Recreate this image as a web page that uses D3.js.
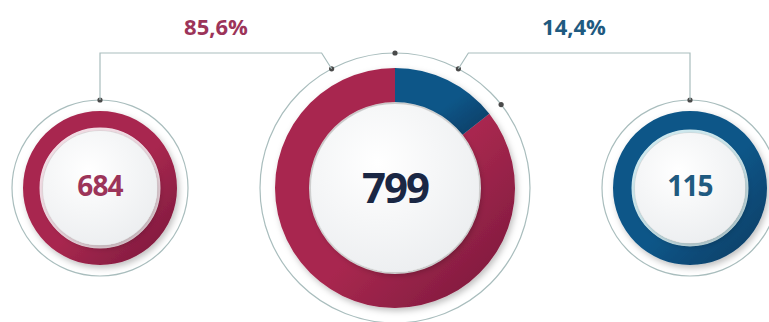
<!DOCTYPE html>
<html>
<head>
<meta charset="utf-8">
<script src="https://cdn.jsdelivr.net/npm/d3@7"></script>
<style>
  html, body { margin: 0; padding: 0; background: #fff; }
  svg { display: block; font-family: "Open Sans", "DejaVu Sans", sans-serif; }
</style>
</head>
<body>
<svg id="chart" width="769" height="322"></svg>
<script>
// values
const groups = ["a", "b"];
const values = [684, 115];
const groupColors = ["#a8284f", "#0f5688"];
const groupDark = ["#76173a", "#0b3a60"];
const textColors = ["#9c3459", "#1f5a80"];
const totalColor = "#1a2744";

const total = d3.sum(values);
const pct = v => d3.format(".1f")(v / total * 100).replace(".", ",") + "%";

const svg = d3.select("#chart");
const defs = svg.append("defs");

groups.forEach((g, i) => {
    const lg = defs.append("linearGradient")
        .attr("id", "grad-" + g)
        .attr("x1", "0").attr("y1", "0").attr("x2", "1").attr("y2", "1");
    lg.append("stop").attr("offset", "0%").attr("stop-color", groupColors[i]);
    lg.append("stop").attr("offset", "55%").attr("stop-color", groupColors[i]);
    lg.append("stop").attr("offset", "100%").attr("stop-color", groupDark[i]);
});

const shadow = defs.append("filter").attr("id", "shadow")
    .attr("x", "-30%").attr("y", "-30%").attr("width", "160%").attr("height", "160%");
shadow.append("feDropShadow")
    .attr("dx", 2).attr("dy", 3).attr("stdDeviation", 3)
    .attr("flood-color", "#000").attr("flood-opacity", 0.25);

const innerGrad = defs.append("radialGradient").attr("id", "inner")
    .attr("cx", "40%").attr("cy", "35%").attr("r", "70%");
innerGrad.append("stop").attr("offset", "0%").attr("stop-color", "#ffffff");
innerGrad.append("stop").attr("offset", "100%").attr("stop-color", "#eceef0");

const ringGrey = "#a9bdbd";
const cy = 188;

// side circles + centre
const side = [
    { x: 100, outer: 88, r0: 60, r1: 77 },
    { x: 690, outer: 88, r0: 58, r1: 77 }
];
const centre = { x: 395, outer: 135, r0: 86, r1: 120 };

function drawBase(c) {
    const g = svg.append("g").attr("transform", `translate(${c.x},${cy})`);
    g.append("circle").attr("r", c.outer)
        .attr("fill", "none").attr("stroke", ringGrey).attr("stroke-width", 1.2);
    return g;
}

function dot(g, r, deg) {
    const a = deg * Math.PI / 180;
    g.append("circle")
        .attr("cx", r * Math.sin(a)).attr("cy", -r * Math.cos(a))
        .attr("r", 2.6).attr("fill", "#4a4a4a");
}

// side rings
side.forEach((c, i) => {
    const g = drawBase(c);
    const arc = d3.arc().innerRadius(c.r0).outerRadius(c.r1);
    g.append("path")
        .attr("d", arc({ startAngle: 0, endAngle: 2 * Math.PI }))
        .attr("fill", `url(#grad-${groups[i]})`)
        .attr("filter", "url(#shadow)");
    g.append("circle").attr("r", c.r0 - 1)
        .attr("fill", "none").attr("stroke", i === 1 ? "#cfeaf0" : "#f3dde5").attr("stroke-width", 3);
    g.append("circle").attr("r", c.r0 - 3).attr("fill", "url(#inner)")
        .attr("filter", "url(#shadow)");
    g.append("text")
        .attr("text-anchor", "middle").attr("y", 8)
        .attr("font-size", 28).attr("font-weight", 700)
        .attr("letter-spacing", -0.8)
        .attr("fill", textColors[i])
        .text(values[i]);
    dot(g, c.outer, 0);
});

// centre ring with pie
const gc = drawBase(centre);
const pie = d3.pie().sort(null).startAngle(2 * Math.PI).endAngle(0);
const arcs = pie(values);
const centreArc = d3.arc().innerRadius(centre.r0).outerRadius(centre.r1);
gc.append("g").attr("filter", "url(#shadow)")
    .selectAll("path").data(arcs).join("path")
    .attr("d", centreArc)
    .attr("fill", (d, i) => `url(#grad-${groups[i]})`);
gc.append("circle").attr("r", centre.r0 - 2).attr("fill", "url(#inner)")
    .attr("filter", "url(#shadow)");
gc.append("text")
    .attr("text-anchor", "middle").attr("y", 15)
    .attr("font-size", 42).attr("font-weight", 700)
    .attr("letter-spacing", -2)
    .attr("fill", totalColor)
    .text(total);

const splitDeg = values[1] / total * 360;
[-28, 0, 28, splitDeg].forEach(d => dot(gc, centre.outer, d));

// connectors
const lineY = 53;
const pt = (deg) => {
    const a = deg * Math.PI / 180;
    return [centre.x + centre.outer * Math.sin(a), cy - centre.outer * Math.cos(a)];
};
const pl = pt(-28), pr = pt(28);
const line = d3.line();
svg.append("path")
    .attr("d", line([[side[0].x, cy - side[0].outer], [side[0].x, lineY], [pl[0] - 10, lineY], pl]))
    .attr("fill", "none").attr("stroke", ringGrey).attr("stroke-width", 1.2);
svg.append("path")
    .attr("d", line([pr, [pr[0] + 10, lineY], [side[1].x, lineY], [side[1].x, cy - side[1].outer]]))
    .attr("fill", "none").attr("stroke", ringGrey).attr("stroke-width", 1.2);

// percentage labels
const labelX = [216, 574];
values.forEach((v, i) => {
    svg.append("text")
        .attr("x", labelX[i]).attr("y", 34.5)
        .attr("text-anchor", "middle")
        .attr("font-size", 22).attr("font-weight", 700)
        .attr("fill", textColors[i])
        .text(pct(v));
});
</script>
</body>
</html>
